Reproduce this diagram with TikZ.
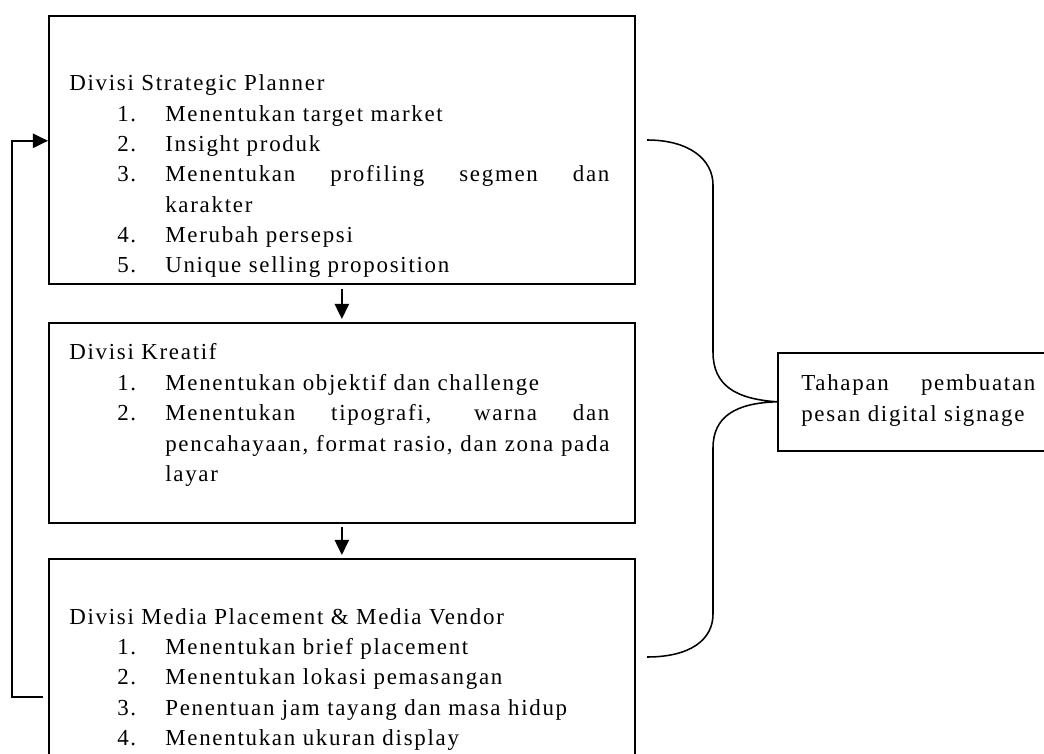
\documentclass[tikz,border=0pt]{standalone}
\usepackage{fontspec}
\setmainfont{Liberation Serif}[LetterSpace=7.5]
\usetikzlibrary{positioning, calc, arrows.meta}

\hyphenpenalty=10000
\tolerance=10000
\newcommand{\butir}[2]{\par\hangindent=2.4cm\hangafter=1\noindent\hspace*{1.2cm}\makebox[1.2cm][l]{#1}#2\par}

\begin{document}
\begin{tikzpicture}[x=0.025cm, y=-0.025cm,
    box/.style={draw, line width=1.1pt, minimum width=14.65cm,
                inner sep=0pt, anchor=north west},
    txt/.style={anchor=north west, inner sep=0pt, align=justify,
                text width=13.5cm, font=\fontsize{16.3}{21.6}\selectfont},
    arw/.style={-{Triangle[length=0.38cm, width=0.36cm]}, line width=1.1pt},
    brc/.style={line width=1.1pt},
]
\clip (0,0) rectangle (1044,754);

\node[box, minimum height=6.7cm] (sp) at (48,15) {};
\node[box, minimum height=5cm] (kr) at (48,322) {};
\node[box, minimum height=5.25cm] (mp) at (48,558) {};
\node[box, minimum width=7.075cm, minimum height=2.45cm] (tah) at (777,352) {};

\node[txt] (sptxt) at (69,74.5) {\noindent Divisi Strategic Planner
    \butir{1.}{Menentukan target market}
    \butir{2.}{Insight produk}
    \butir{3.}{Menentukan profiling segmen dan\linebreak karakter}
    \butir{4.}{Merubah persepsi}
    \butir{5.}{Unique selling proposition}};
\node[txt] (krtxt) at (69,343.5) {\noindent Divisi Kreatif
    \butir{1.}{Menentukan objektif dan challenge}
    \butir{2.}{Menentukan tipografi, warna dan\linebreak pencahayaan, format rasio, dan zona pada\linebreak layar}};
\node[txt] (mptxt) at (69,608) {\noindent Divisi Media Placement \& Media Vendor
    \butir{1.}{Menentukan brief placement}
    \butir{2.}{Menentukan lokasi pemasangan}
    \butir{3.}{Penentuan jam tayang dan masa hidup}
    \butir{4.}{Menentukan ukuran display}};
\node[txt, text width=5.85cm] (tahtxt) at (801,374.5) {\noindent Tahapan pembuatan\linebreak pesan digital signage};

\draw[arw] ($(sp.south)+(0,4)$) -- ($(kr.north)+(0,-3)$);
\draw[arw] ($(kr.south)+(0,3)$) -- ($(mp.north)+(0,-3)$);

\coordinate (back) at (43,697);
\draw[arw] (back) -- (12,697) |- ($(sp.west)+(0,-9)$);

\coordinate (brtop) at (647,140);
\coordinate (brbot) at (647,657);
\draw[brc] (brtop) .. controls (690,140) and (713,160) .. (713,185) -- (713,352)
    .. controls (713,385) and (735,399) .. (tah.west)
    .. controls (735,403) and (713,417) .. (713,448) -- (713,614)
    .. controls (713,640) and (690,657) .. (brbot);
\end{tikzpicture}
\end{document}
